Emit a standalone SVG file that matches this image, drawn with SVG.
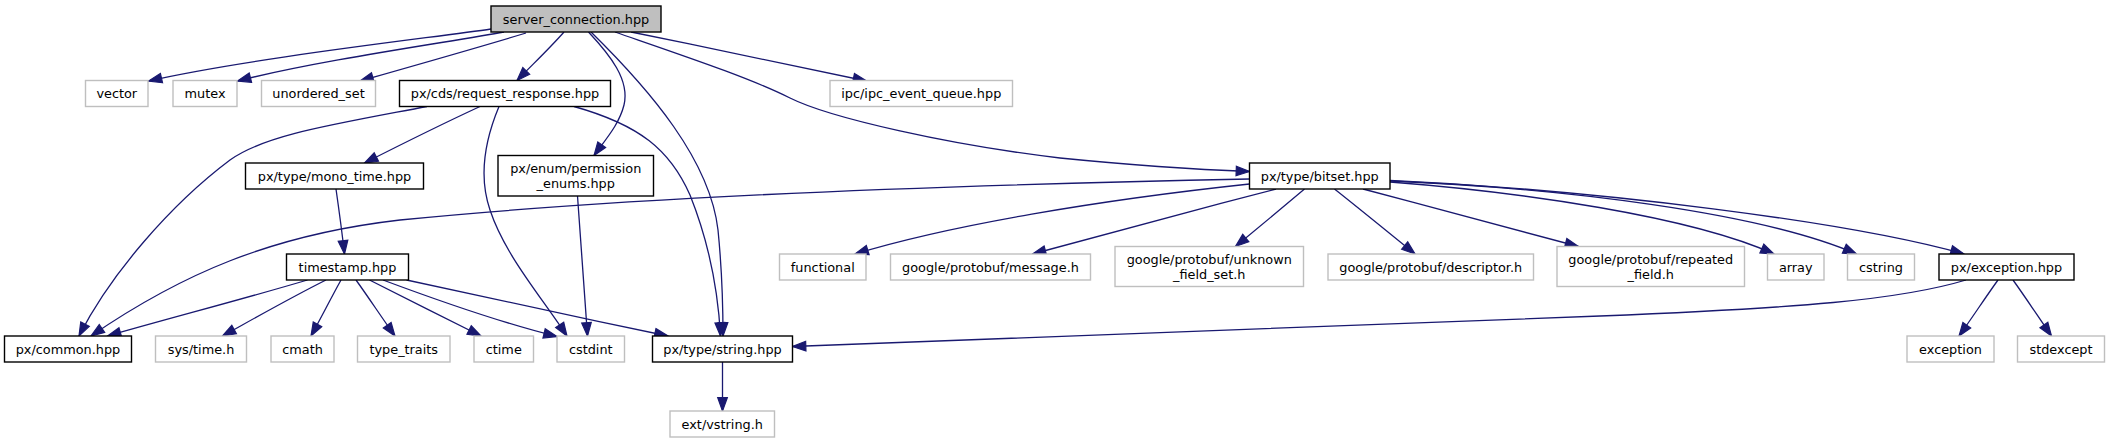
<svg xmlns="http://www.w3.org/2000/svg" width="2109" height="443" viewBox="0 0 2109 443">
<defs>
<style>
text{font-family:"DejaVu Sans","Liberation Sans",sans-serif;font-size:12.85px;fill:#000;text-anchor:middle}
.doc{fill:#fff;stroke:#000;stroke-width:1.4}
.ext{fill:#fff;stroke:#bfbfbf;stroke-width:1.4}
.root{fill:#bfbfbf;stroke:#000;stroke-width:1.4}
.e{fill:none;stroke:#191970;stroke-width:1.3;marker-end:url(#ah)}
</style>
<marker id="ah" markerUnits="userSpaceOnUse" markerWidth="16" markerHeight="12" refX="13.3" refY="4.8" orient="auto" overflow="visible">
<path d="M0,0 L13.3,4.8 L0,9.6 Z" fill="#191970" stroke="#191970" stroke-width="1.2"/>
</marker>
</defs>
<rect width="2109" height="443" fill="#fff"/>
<g id="edges">
<path class="e" d="M491,29 C430,38 250,58 148.5,81"/>
<path class="e" d="M504,32 C450,42 320,60 237.5,81"/>
<path class="e" d="M526,33 C480,47 420,64 360,81"/>
<path class="e" d="M564,32 C550,48 533,64 517,80.5"/>
<path class="e" d="M588.5,32 C610,55 630,80 624,105 C619,125 605,140 594,155.5"/>
<path class="e" d="M591,32 C650,90 710,160 718,230 C722,270 723,300 723,336"/>
<path class="e" d="M631,32 C710,48 790,65 866.5,81"/>
<path class="e" d="M615,32 C690,58 750,78 790,98 C830,118 950,145 1060,158 C1150,167 1210,170 1249.5,171.5"/>
<path class="e" d="M427,106.5 C330,125 265,135 230,160 C170,205 110,275 79,336"/>
<path class="e" d="M480,106.5 C440,125 400,145 364.5,163"/>
<path class="e" d="M499,106.5 C485,140 478,175 490,210 C505,255 540,295 567,336"/>
<path class="e" d="M574,106.5 C640,125 670,150 690,195 C710,245 718,290 720.5,336"/>
<path class="e" d="M336,189 C339,210 342,232 344.5,254"/>
<path class="e" d="M577.5,196 C581,240 584,290 587.5,336"/>
<path class="e" d="M307.5,280 C240,300 170,318 107.5,336"/>
<path class="e" d="M326,280 C290,298 255,318 222.5,336"/>
<path class="e" d="M341,280 C331,298 321,318 311,336"/>
<path class="e" d="M356,280 C369,298 382,318 395,336"/>
<path class="e" d="M369.5,280 C405,298 445,318 481,336"/>
<path class="e" d="M383,280 C450,305 510,325 557,336.5"/>
<path class="e" d="M406.5,280 C490,298 580,318 668,336"/>
<path class="e" d="M1249.5,179 C900,186 600,200 400,220 C270,235 180,275 91,336"/>
<path class="e" d="M1249.5,184 C1100,200 950,225 855,254"/>
<path class="e" d="M1276,189 C1195,210 1115,232 1032.5,254"/>
<path class="e" d="M1304.5,189 C1282,208 1258,228 1235.5,246.5"/>
<path class="e" d="M1334.5,189 C1361,210 1388,232 1415,254"/>
<path class="e" d="M1363,189 C1435,208 1507,228 1578.5,246.5"/>
<path class="e" d="M1390,182 C1520,192 1690,216 1774,254"/>
<path class="e" d="M1390,181 C1560,188 1760,212 1856.5,254"/>
<path class="e" d="M1390,180.5 C1600,190 1850,222 1964,254"/>
<path class="e" d="M1966,280 C1900,300 1800,308 1600,316 C1300,328 1000,340 792.5,346.5"/>
<path class="e" d="M1998,280 C1985,298 1972,318 1959,336"/>
<path class="e" d="M2013,280 C2026,298 2039,318 2051.5,336"/>
<path class="e" d="M722.5,362 L722.5,411"/>
</g>
<g id="n0"><rect class="root" x="491" y="6" width="170" height="26"/><text x="576" y="23.5">server_connection.hpp</text></g>
<g id="n1"><rect class="ext" x="85.5" y="80.5" width="62.5" height="26"/><text x="116.75" y="98">vector</text></g>
<g id="n2"><rect class="ext" x="173" y="80.5" width="64" height="26"/><text x="205" y="98">mutex</text></g>
<g id="n3"><rect class="ext" x="261.5" y="80.5" width="114" height="26"/><text x="318.5" y="98">unordered_set</text></g>
<g id="n4"><rect class="doc" x="399.5" y="80.5" width="211" height="26"/><text x="505" y="98">px/cds/request_response.hpp</text></g>
<g id="n5"><rect class="ext" x="830" y="80.5" width="182.5" height="26"/><text x="921.25" y="98">ipc/ipc_event_queue.hpp</text></g>
<g id="n6"><rect class="doc" x="245.5" y="163" width="178" height="26"/><text x="334.5" y="180.5">px/type/mono_time.hpp</text></g>
<g id="n7"><rect class="doc" x="498" y="155.5" width="155.5" height="40.5"/><text x="575.75" y="173">px/enum/permission</text><text x="575.75" y="187.75">_enums.hpp</text></g>
<g id="n8"><rect class="doc" x="1249.5" y="163" width="140.5" height="26"/><text x="1319.75" y="180.5">px/type/bitset.hpp</text></g>
<g id="n9"><rect class="doc" x="286.5" y="254" width="122" height="26"/><text x="347.5" y="271.5">timestamp.hpp</text></g>
<g id="n10"><rect class="ext" x="779.5" y="254" width="86.5" height="26"/><text x="822.75" y="271.5">functional</text></g>
<g id="n11"><rect class="ext" x="890.5" y="254" width="200" height="26"/><text x="990.5" y="271.5">google/protobuf/message.h</text></g>
<g id="n12"><rect class="ext" x="1115" y="246.5" width="188.5" height="40"/><text x="1209.25" y="263.8">google/protobuf/unknown</text><text x="1209.25" y="278.5">_field_set.h</text></g>
<g id="n13"><rect class="ext" x="1328" y="254" width="205.5" height="26"/><text x="1430.75" y="271.5">google/protobuf/descriptor.h</text></g>
<g id="n14"><rect class="ext" x="1557" y="246.5" width="187.5" height="40"/><text x="1650.75" y="263.8">google/protobuf/repeated</text><text x="1650.75" y="278.5">_field.h</text></g>
<g id="n15"><rect class="ext" x="1767.5" y="254" width="56.5" height="26"/><text x="1795.75" y="271.5">array</text></g>
<g id="n16"><rect class="ext" x="1847.5" y="254" width="67" height="26"/><text x="1881" y="271.5">cstring</text></g>
<g id="n17"><rect class="doc" x="1939" y="254" width="135" height="26"/><text x="2006.5" y="271.5">px/exception.hpp</text></g>
<g id="n18"><rect class="doc" x="4.5" y="336" width="127" height="26"/><text x="68" y="353.5">px/common.hpp</text></g>
<g id="n19"><rect class="ext" x="155.5" y="336" width="91" height="26"/><text x="201" y="353.5">sys/time.h</text></g>
<g id="n20"><rect class="ext" x="271" y="336" width="63" height="26"/><text x="302.5" y="353.5">cmath</text></g>
<g id="n21"><rect class="ext" x="357.5" y="336" width="92.5" height="26"/><text x="403.75" y="353.5">type_traits</text></g>
<g id="n22"><rect class="ext" x="474" y="336" width="59.5" height="26"/><text x="503.75" y="353.5">ctime</text></g>
<g id="n23"><rect class="ext" x="557" y="336" width="67.5" height="26"/><text x="590.75" y="353.5">cstdint</text></g>
<g id="n24"><rect class="doc" x="652.5" y="336" width="140" height="26"/><text x="722.5" y="353.5">px/type/string.hpp</text></g>
<g id="n25"><rect class="ext" x="1907" y="336" width="87" height="26"/><text x="1950.5" y="353.5">exception</text></g>
<g id="n26"><rect class="ext" x="2017.5" y="336" width="87" height="26"/><text x="2061" y="353.5">stdexcept</text></g>
<g id="n27"><rect class="ext" x="670" y="411" width="104.5" height="26"/><text x="722.25" y="428.5">ext/vstring.h</text></g>
</svg>
